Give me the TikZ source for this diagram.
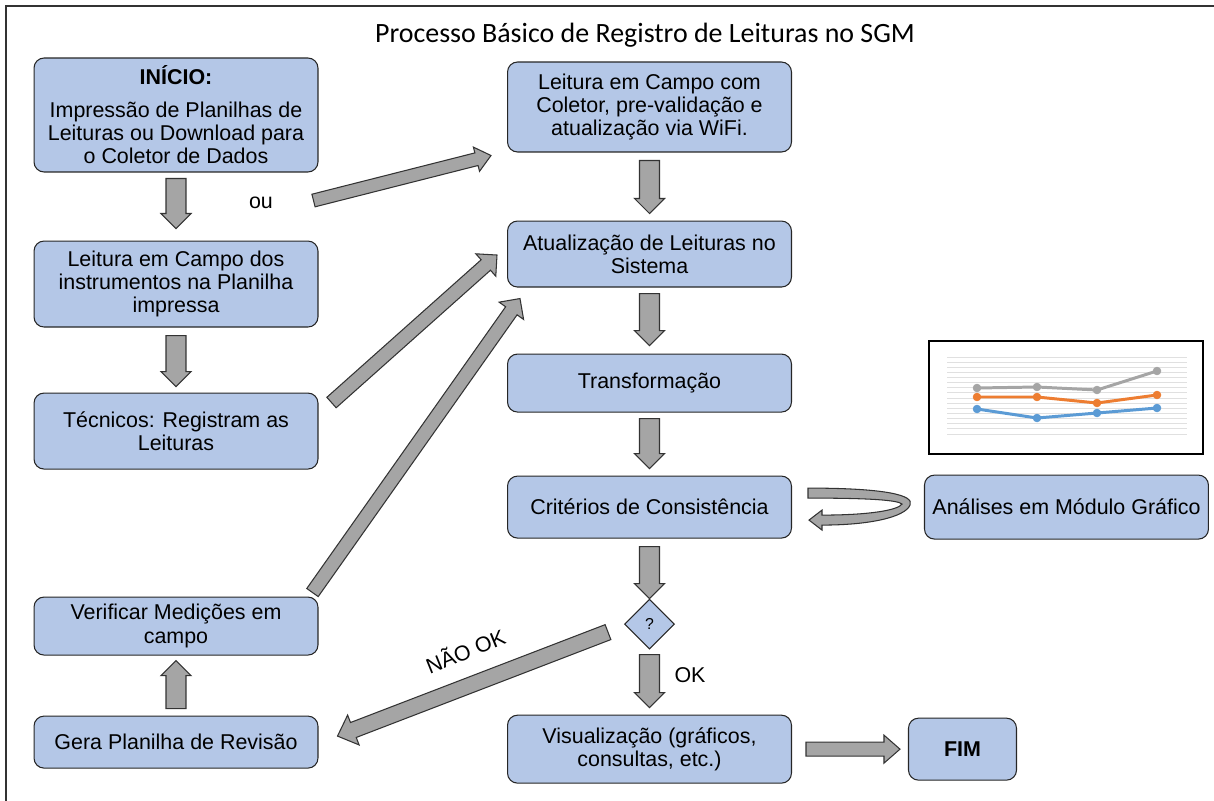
\documentclass[tikz,border=0pt]{standalone}
\usepackage{fontspec}
\setmainfont{Liberation Sans}
\newfontfamily\titlefont{Carlito}
\usepackage{tikz}
\usetikzlibrary{positioning}
\usetikzlibrary{calc}
\usetikzlibrary{shapes.geometric}
\definecolor{boxblue}{HTML}{B4C7E7}
\definecolor{arrowgray}{HTML}{A5A5A5}
\definecolor{seriegray}{HTML}{A5A5A5}
\definecolor{serieorange}{HTML}{ED7D31}
\definecolor{serieblue}{HTML}{5B9BD5}

\begin{document}
\begin{tikzpicture}[x=0.02cm,y=-0.02cm,node distance=1.3cm,
  box/.style={draw=black!85,line width=0.6pt,fill=boxblue,rounded corners=0.2cm,minimum width=5.68cm,align=center,inner sep=2pt},
  barrow/.style n args={3}{draw=black!80,fill=arrowgray,line width=0.6pt,
    to path={let \p1=(\tikztostart), \p2=(\tikztotarget) in
      ($(\p1)!#1!90:(\p2)$)
      -- ($(\p2)!#3!(\p1)!#1!-90:(\p1)$)
      -- ($(\p2)!#3!(\p1)!#1+#2!-90:(\p1)$)
      -- (\p2)
      -- ($(\p2)!#3!(\p1)!#1+#2!90:(\p1)$)
      -- ($(\p2)!#3!(\p1)!#1!90:(\p1)$)
      -- ($(\p1)!#1!-90:(\p2)$) -- cycle}},
  varrow/.style={barrow={0.2cm}{0.1cm}{0.3cm}},
  serie/.style={line width=1.7pt,mark=*,mark size=2.2pt,mark options={line width=0.4pt}}]
  \fontsize{12.2}{13.3}\selectfont
  \useasboundingbox (0,0) rectangle (1214,801);
  \draw[black!80,line width=1.2pt] (6,801) -- (6,6) -- (1214,6);
  \node[font=\titlefont\fontsize{15.9}{18}\selectfont](titulo) at (645,35) {Processo Básico de Registro de Leituras no SGM};
  \node[box,minimum height=2.28cm](inicio) at (176,115) {\textbf{INÍCIO:}\\[5pt]Impressão de Planilhas de\\Leituras ou Download para\\o Coletor de Dados};
  \node[box,minimum height=1.72cm](lcampo) [below=1.36cm of inicio] {Leitura em Campo dos\\instrumentos na Planilha\\impressa};
  \node[box,minimum height=1.52cm](tecnicos) [below=of lcampo] {Técnicos: Registram as\\Leituras};
  \node[box,minimum height=1.16cm](verificar) [below=2.54cm of tecnicos] {Verificar Medições em\\campo};
  \node[box,minimum height=1.04cm](gera) [below=1.2cm of verificar] {Gera Planilha de Revisão};
  \node[box,minimum height=1.8cm](coletor) at (649.5,107) {Leitura em Campo com\\Coletor, pre-validação e\\atualização via WiFi.};
  \node[box,minimum height=1.32cm](atualiza) [below=1.36cm of coletor] {Atualização de Leituras no\\Sistema};
  \node[box,minimum height=1.16cm](transf) [below=1.32cm of atualiza] {Transformação};
  \node[box,minimum height=1.24cm](criterios) [below=1.26cm of transf] {Critérios de Consistência};
  \node[draw=black!85,line width=0.6pt,fill=boxblue,diamond,minimum size=1cm,inner sep=0pt,font=\small](decisao) [below=1.2cm of criterios] {?};
  \node[box,minimum height=1.36cm](visual) [below=1.3cm of decisao] {Visualização (gráficos,\\consultas, etc.)};
  \node[box,minimum height=1.28cm](analises) [right=2.64cm of criterios] {Análises em Módulo Gráfico};
  \node[box,minimum width=2.16cm,minimum height=1.24cm,font=\bfseries](fim) [right=2.32cm of visual] {FIM};
  \node(ou) at (261,203) {ou};
  \node(ok) at (690,675) {OK};
  \node[rotate=22](naook) at (465,650) {NÃO OK};
  \draw[varrow] ([yshift=-0.12cm]inicio.south) to ([yshift=0.24cm]lcampo.north);
  \draw[varrow] ([yshift=-0.16cm]lcampo.south) to ([yshift=0.12cm]tecnicos.north);
  \draw[varrow] ([yshift=0.14cm]gera.north) to ([yshift=-0.1cm]verificar.south);
  \draw[varrow] ([yshift=-0.16cm]coletor.south) to ([yshift=0.14cm]atualiza.north);
  \draw[varrow] ([yshift=-0.12cm]atualiza.south) to ([yshift=0.16cm]transf.north);
  \draw[varrow] ([yshift=-0.12cm]transf.south) to ([yshift=0.14cm]criterios.north);
  \draw[varrow] ([yshift=-0.16cm]criterios.south) to (decisao.north);
  \draw[varrow] ([yshift=-0.1cm]decisao.south) to ([yshift=0.14cm]visual.north);
  \draw[barrow={0.14cm}{0.14cm}{0.32cm}] ([xshift=0.28cm]visual.east) to ([xshift=-0.16cm]fim.west);
  \draw[barrow={0.13cm}{0.12cm}{0.3cm}] ([shift={(-5,28)}]inicio.south east) to ([shift={(-16,3)}]coletor.south west);
  \draw[barrow={0.14cm}{0.16cm}{0.3cm}] ([shift={(13,10)}]tecnicos.north east) to ([shift={(-10,1)}]atualiza.west);
  \draw[barrow={0.14cm}{0.16cm}{0.3cm}] ([shift={(-6,-4)}]verificar.north east) to ([shift={(13,11)}]atualiza.south west);
  \draw[barrow={0.16cm}{0.16cm}{0.34cm}] ([shift={(-16,8)}]decisao.west) to ([shift={(19,-6)}]gera.east);
  \begin{scope}[shift={(criterios.east)}]
    \draw[draw=black!80,fill=arrowgray,line width=0.6pt] (16,-19) .. controls (93,-19) and (123,-12) .. (118,-2)
      .. controls (113,10) and (78,18) .. (30,18) -- (30,23) -- (17,13) -- (30,3) -- (30,8)
      .. controls (78,8) and (106,3) .. (110,-3) .. controls (106,-7) and (78,-9) .. (16,-9) -- cycle;
  \end{scope}
  \draw[black,line width=0.6pt] (929,341) rectangle (1203,454);
  \foreach \i in {0,...,15}
    \draw[black!12,line width=0.5pt] (947,{357+5.13*\i}) -- (1187,{357+5.13*\i});
  \draw[serie,seriegray] plot coordinates {(977,388) (1037,387) (1097,390) (1157,371)};
  \draw[serie,serieorange] plot coordinates {(977,397) (1037,397) (1097,403) (1157,395)};
  \draw[serie,serieblue] plot coordinates {(977,409) (1037,418) (1097,413) (1157,408)};
\end{tikzpicture}
\end{document}
